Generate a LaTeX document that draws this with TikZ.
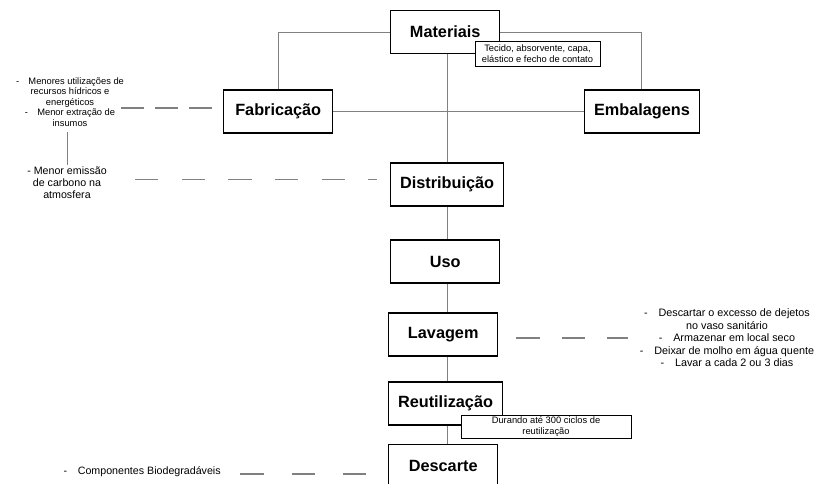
\documentclass[tikz,border=0pt]{standalone}
\usepackage{fontspec}
\setmainfont{Liberation Sans}
\usepackage{tikz}
\usetikzlibrary{positioning, arrows.meta}
\definecolor{linkgray}{HTML}{808080}
\tikzset{
	stage/.style={draw=black, line width=1.1pt, fill=white, anchor=west, minimum width=81.75pt, minimum height=32.25pt, inner xsep=7pt, font=\fontsize{12.2}{14}\selectfont\bfseries},
	remark/.style={draw=black, line width=0.75pt, fill=white, align=center, inner sep=0pt, font=\fontsize{7}{8.25}\selectfont},
	note/.style={align=center, inner sep=1pt, font=\fontsize{7}{7.9}\selectfont},
	bignote/.style={note, font=\fontsize{8}{9}\selectfont},
	link/.style={draw=linkgray, line width=0.75pt},
	dashlink/.style={draw=linkgray, line width=1pt, dash pattern=on 17.5pt off #1},
	dashlink/.default=17.5pt
}

\begin{document}
\begin{tikzpicture}[x=0.75pt, y=-0.75pt]
			\useasboundingbox (0,0) rectangle (815,483);
			\coordinate (spine) at (447,0);
			\node[stage] (mat) at (390,32) {Materiais};
			\node[remark, minimum width=93.75pt, minimum height=18.75pt] (matbox) at (537.5,53.5) {Tecido, absorvente, capa,\\ elástico e fecho de contato};
			\node[stage] (fab) at (223,111.5) {Fabricação};
			\node[stage] (emb) at (584,111.5) {Embalagens};
			\node[stage] (dist) at (390,184.5) {Distribuição};
			\node[stage] (uso) at (390,261.5) {Uso};
			\node[stage] (lav) at (388,334.5) {Lavagem};
			\node[stage] (reut) at (388,403.5) {Reutilização};
			\node[remark, minimum width=127.5pt, minimum height=17.25pt] (reutbox) at (546,426.5) {Durando até 300 ciclos de\\ reutilização};
			\node[stage] (desc) at (388,466) {Descarte};
			\draw[link] (mat.west) -| (fab.north);
			\draw[link] (mat.east) -| (emb.north);
			\draw[link] (fab.east) -- (emb.west);
			\draw[link] (spine |- mat.south) -- (spine |- dist.north);
			\draw[link] (spine |- dist.south) -- (spine |- uso.north);
			\draw[link] (spine |- uso.south) -- (spine |- lav.north);
			\draw[link] (spine |- lav.south) -- (spine |- reut.north);
			\draw[link] (spine |- reut.south) -- (spine |- desc.north);
			\node[note] (fabnote) at (70,102) {-\quad Menores utilizações de\\ recursos hídricos e\\ energéticos\\ -\quad Menor extração de\\ insumos};
			\node[bignote] (distnote) at (67,183) {- Menor emissão\\ de carbono na\\ atmosfera};
			\node[bignote, font=\fontsize{8.1}{9.4}\selectfont] (lavnote) at (727,338) {-\quad Descartar o excesso de dejetos\\ no vaso sanitário\\ -\quad Armazenar em local seco\\ -\quad Deixar de molho em água quente\\ -\quad Lavar a cada 2 ou 3 dias};
			\node[bignote, anchor=west] (descnote) at (62,472) {-\quad Componentes Biodegradáveis};
			\draw[dashlink=8pt, shorten <=8.25pt, shorten >=-6pt] ([yshift=2.6pt]fab.west) -- ([yshift=2.6pt]fab.west -| fabnote.east);
			\draw[link, shorten <=3pt] (fabnote.south -| distnote.north) -- (distnote.north);
			\draw[dashlink, shorten <=20pt, shorten >=9.75pt] ([yshift=4pt]dist.west -| distnote.east) -- ([yshift=4pt]dist.west);
			\draw[dashlink=16.5pt, shorten <=13.5pt, shorten >=7.5pt] ([yshift=-2.6pt]lav.east) -- ([yshift=-2.6pt]lav.east -| lavnote.west);
			\draw[dashlink=21pt, shorten <=13.5pt, shorten >=15pt] ([yshift=-6pt]desc.west -| descnote.east) -- ([yshift=-6pt]desc.west);
		\end{tikzpicture}
\end{document}
